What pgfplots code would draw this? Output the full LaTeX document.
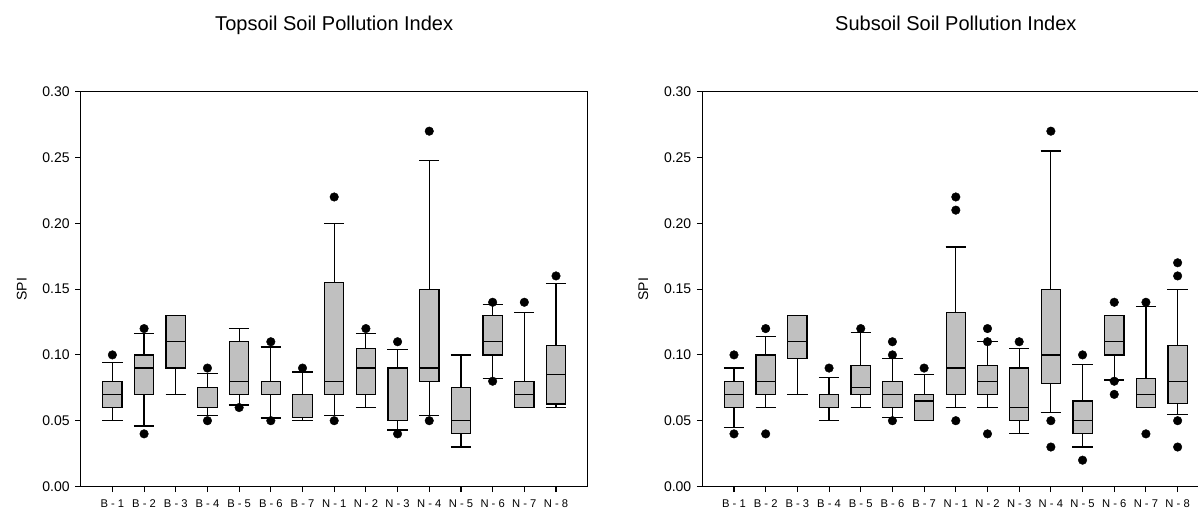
\documentclass[border=0pt]{standalone}
\usepackage{fontspec}
\setmainfont{Liberation Sans}
\usepackage{pgfplots}
\pgfplotsset{compat=1.18}
\usepgfplotslibrary{statistics}

\definecolor{boxgray}{RGB}{192,192,192}

\pgfplotsset{
  spiaxis/.style={
    scale only axis, width=507pt, height=394.8pt,
    anchor=south west,
    xmin=0, xmax=16, ymin=0, ymax=0.30,
    xtick={1,...,15},
    xticklabels={B - 1, B - 2, B - 3, B - 4, B - 5, B - 6, B - 7,
                 N - 1, N - 2, N - 3, N - 4, N - 5, N - 6, N - 7, N - 8},
    ytick={0,0.05,0.10,0.15,0.20,0.25,0.30},
    /pgf/number format/assume math mode=true,
    yticklabel style={/pgf/number format/fixed,
                      /pgf/number format/fixed zerofill,
                      /pgf/number format/precision=2,
                      font=\fontsize{14}{16}\selectfont, xshift=-2pt},
    xticklabel style={font=\fontsize{11.2}{13}\selectfont, yshift=-4.5pt},
    tick pos=left, tick align=outside, major tick length=5.5pt,
    axis line style={black, line width=1.1pt},
    every tick/.style={black, line width=1.1pt},
    every axis title/.style={at={(axis description cs:0.5,1)}, anchor=base,
                             yshift=60.7pt, font=\fontsize{20}{24}\selectfont},
    every axis y label/.style={at={(axis description cs:-0.1164,0.5)},
                               rotate=90, anchor=center,
                               font=\fontsize{14}{16}\selectfont},
    ylabel={SPI},
    boxplot/draw direction=y,
    boxplot/box extend=0.61,
    boxplot/whisker extend=0.64,
  },
  boxstyle/.style={draw=black, fill=boxgray, line width=1.2pt},
  outstyle/.style={only marks, mark=*, mark size=4.3pt, black,
                   mark options={fill=black, draw=black}},
}

% one prepared box: position, lower whisker, lower quartile, median,
% upper quartile, upper whisker
\newcommand{\bx}[6]{%
  \addplot[boxstyle, boxplot prepared={draw position=#1,
    lower whisker=#2, lower quartile=#3, median=#4,
    upper quartile=#5, upper whisker=#6}] coordinates {};}

\begin{document}
\begin{tikzpicture}

% ---------------- Topsoil ----------------
\begin{axis}[spiaxis, at={(80.7pt,25.5pt)}, title={Topsoil Soil Pollution Index}]
  \bx{1}{0.050}{0.060}{0.070}{0.080}{0.094}
  \bx{2}{0.046}{0.070}{0.090}{0.100}{0.116}
  \bx{3}{0.070}{0.090}{0.110}{0.130}{0.130}
  \bx{4}{0.054}{0.060}{0.060}{0.075}{0.086}
  \bx{5}{0.062}{0.070}{0.080}{0.110}{0.120}
  \bx{6}{0.052}{0.070}{0.070}{0.080}{0.106}
  \bx{7}{0.050}{0.0525}{0.0525}{0.070}{0.087}
  \bx{8}{0.054}{0.070}{0.080}{0.155}{0.200}
  \bx{9}{0.060}{0.070}{0.090}{0.105}{0.116}
  \bx{10}{0.043}{0.050}{0.050}{0.090}{0.104}
  \bx{11}{0.054}{0.080}{0.090}{0.150}{0.248}
  \bx{12}{0.030}{0.040}{0.050}{0.075}{0.100}
  \bx{13}{0.082}{0.100}{0.110}{0.130}{0.1386}
  \bx{14}{0.060}{0.060}{0.070}{0.080}{0.132}
  \bx{15}{0.060}{0.0627}{0.085}{0.107}{0.154}
  \addplot[outstyle] coordinates {
    (1,0.10) (2,0.12) (2,0.04) (4,0.09) (4,0.05) (5,0.06)
    (6,0.11) (6,0.05) (7,0.09) (8,0.22) (8,0.05) (9,0.12)
    (10,0.11) (10,0.04) (11,0.27) (11,0.05) (13,0.14) (13,0.08)
    (14,0.14) (15,0.16)
  };
\end{axis}

% ---------------- Subsoil ----------------
\begin{axis}[spiaxis, at={(702.3pt,25.5pt)}, title={Subsoil Soil Pollution Index}]
  \bx{1}{0.045}{0.060}{0.070}{0.080}{0.090}
  \bx{2}{0.060}{0.070}{0.080}{0.100}{0.114}
  \bx{3}{0.070}{0.097}{0.110}{0.130}{0.130}
  \bx{4}{0.050}{0.060}{0.060}{0.070}{0.083}
  \bx{5}{0.060}{0.070}{0.075}{0.092}{0.117}
  \bx{6}{0.0525}{0.060}{0.070}{0.080}{0.097}
  \bx{7}{0.050}{0.050}{0.065}{0.070}{0.085}
  \bx{8}{0.060}{0.070}{0.090}{0.132}{0.182}
  \bx{9}{0.060}{0.070}{0.080}{0.092}{0.110}
  \bx{10}{0.040}{0.050}{0.060}{0.090}{0.105}
  \bx{11}{0.056}{0.078}{0.100}{0.150}{0.255}
  \bx{12}{0.030}{0.040}{0.050}{0.065}{0.093}
  \bx{13}{0.081}{0.100}{0.110}{0.130}{0.130}
  \bx{14}{0.060}{0.060}{0.070}{0.082}{0.137}
  \bx{15}{0.055}{0.063}{0.080}{0.107}{0.150}
  \addplot[outstyle] coordinates {
    (1,0.10) (1,0.04) (2,0.12) (2,0.04) (4,0.09) (5,0.12)
    (6,0.11) (6,0.10) (6,0.05) (7,0.09) (8,0.22) (8,0.21) (8,0.05)
    (9,0.12) (9,0.11) (9,0.04) (10,0.11) (11,0.27) (11,0.05) (11,0.03)
    (12,0.10) (12,0.02) (13,0.14) (13,0.08) (13,0.07) (14,0.14) (14,0.04)
    (15,0.17) (15,0.16) (15,0.05) (15,0.03)
  };
\end{axis}

\pgfresetboundingbox
\path[use as bounding box] (0,0) rectangle (1198pt,512pt);
\end{tikzpicture}
\end{document}
